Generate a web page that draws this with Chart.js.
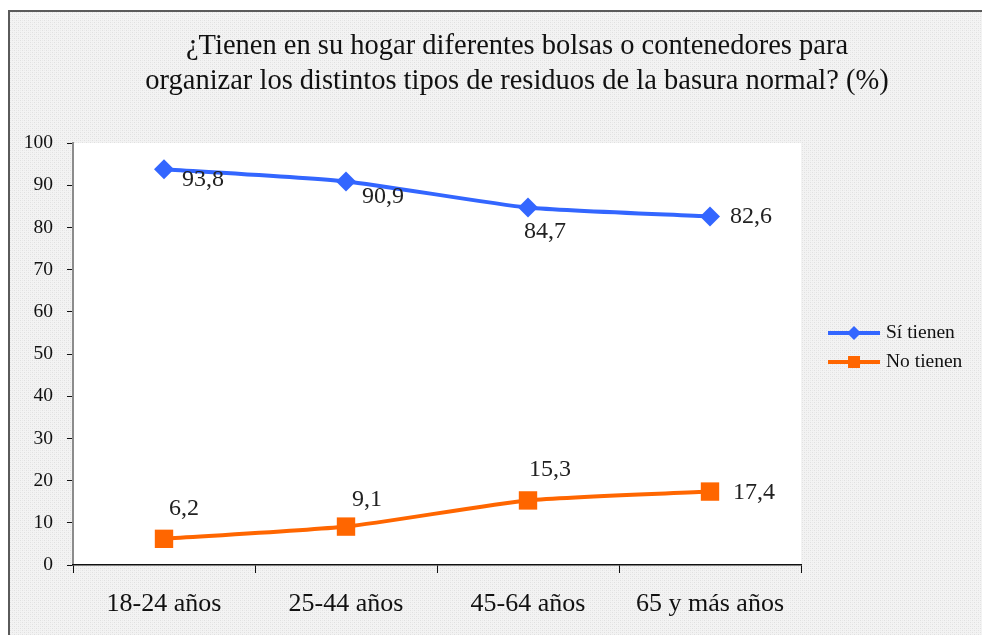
<!DOCTYPE html>
<html>
<head>
<meta charset="utf-8">
<script src="https://cdn.jsdelivr.net/npm/chart.js@4/dist/chart.umd.min.js"></script>
<style>
  html, body { margin: 0; padding: 0; background: #fff; }
  #wrap { width: 982px; height: 635px; }
</style>
</head>
<body>
<div id="wrap"><canvas id="Chart1" width="982" height="635"></canvas></div>
<script>
const categories = ['18-24 años', '25-44 años', '45-64 años', '65 y más años'];
const si_tienen = [93.8, 90.9, 84.7, 82.6];
const no_tienen = [6.2, 9.1, 15.3, 17.4];
const series_names = ['Sí tienen', 'No tienen'];
const title_lines = ['¿Tienen en su hogar diferentes bolsas o contenedores para', 'organizar los distintos tipos de residuos de la basura normal? (%)'];

const serif = "'Liberation Serif', 'Times New Roman', serif";

// where each value label sits relative to its point (dx, dy)
const label_pos = [
  [[18, 11], [16, 15], [-4, 24], [20, 0]],
  [[5, -30], [6, -27], [1, -31], [23, 1]]
];

// hatched grey background pattern
const makePattern = (ctx) => {
  const c = document.createElement('canvas');
  c.width = 4; c.height = 4;
  const p = c.getContext('2d');
  p.fillStyle = '#f3f3f3';
  p.fillRect(0, 0, 4, 4);
  p.fillStyle = '#e0e0e0';
  p.fillRect(0, 0, 1, 1);
  p.fillRect(2, 2, 1, 1);
  p.fillStyle = '#eaeaea';
  p.fillRect(2, 0, 1, 1);
  p.fillRect(0, 2, 1, 1);
  return ctx.createPattern(c, 'repeat');
};

const backgroundPlugin = {
  id: 'bg',
  beforeDraw(chart) {
    const ctx = chart.ctx;
    const a = chart.chartArea;
    ctx.save();
    ctx.fillStyle = '#ffffff';
    ctx.fillRect(0, 0, chart.width, chart.height);
    ctx.fillStyle = makePattern(ctx);
    ctx.fillRect(9, 11, chart.width, chart.height);
    ctx.strokeStyle = '#5a5a5a';
    ctx.lineWidth = 2;
    ctx.strokeRect(9, 11, chart.width + 10, chart.height + 10);
    ctx.fillStyle = '#ffffff';
    ctx.fillRect(a.left, a.top, a.right - a.left, a.bottom - a.top);
    ctx.restore();
  }
};

const titlePlugin = {
  id: 'titleText',
  afterDraw(chart) {
    const ctx = chart.ctx;
    ctx.save();
    ctx.font = '28.5px ' + serif;
    ctx.fillStyle = '#111';
    ctx.textAlign = 'center';
    ctx.textBaseline = 'middle';
    title_lines.forEach((t, i) => ctx.fillText(t, 517, 47 + i * 35));
    ctx.restore();
  }
};

const labelPlugin = {
  id: 'labels',
  afterDatasetsDraw(chart) {
    const ctx = chart.ctx;
    ctx.save();
    ctx.font = '24px ' + serif;
    ctx.fillStyle = '#222';
    ctx.textBaseline = 'middle';
    ctx.textAlign = 'left';
    chart.data.datasets.forEach((ds, i) => {
      const meta = chart.getDatasetMeta(i);
      meta.data.forEach((pt, j) => {
        const o = label_pos[i][j];
        ctx.fillText(ds.data[j].toFixed(1).replace('.', ','), pt.x + o[0], pt.y + o[1]);
      });
    });
    ctx.restore();
  }
};

const legendPlugin = {
  id: 'legendRight',
  afterDraw(chart) {
    const ctx = chart.ctx;
    ctx.save();
    ctx.font = '19.5px ' + serif;
    ctx.textBaseline = 'middle';
    ctx.textAlign = 'left';
    chart.data.datasets.forEach((ds, i) => {
      const y = 333 + i * 29;
      ctx.strokeStyle = ds.borderColor;
      ctx.lineWidth = 4;
      ctx.beginPath();
      ctx.moveTo(828, y);
      ctx.lineTo(880, y);
      ctx.stroke();
      ctx.fillStyle = ds.borderColor;
      Chart.helpers.drawPoint(ctx, {
        pointStyle: ds.pointStyle,
        rotation: 0,
        borderWidth: 0,
        radius: ds.pointStyle === 'rect' ? 8.5 : 7
      }, 854, y);
      ctx.fillStyle = '#111';
      ctx.fillText(series_names[i], 886, y);
    });
    ctx.restore();
  }
};

var ctx = document.getElementById('Chart1').getContext('2d');
const data = {
  labels: categories,
  datasets: [{
      label: series_names[0],
      data: si_tienen,
      borderColor: '#3366FF',
      backgroundColor: '#3366FF',
      borderWidth: 4,
      pointStyle: 'rectRot',
      pointRadius: 10,
      pointBorderWidth: 0,
      tension: 0.2
    },
    {
      label: series_names[1],
      data: no_tienen,
      borderColor: '#FF6600',
      backgroundColor: '#FF6600',
      borderWidth: 4,
      pointStyle: 'rect',
      pointRadius: 13,
      pointBorderWidth: 0,
      tension: 0.2
    }
  ]
};

const config = {
  type: 'line',
  data: data,
  options: {
    responsive: false,
    maintainAspectRatio: false,
    animation: false,
    layout: {
      padding: { left: 0, right: 181, top: 143, bottom: 0 }
    },
    plugins: {
      legend: { display: false },
      tooltip: { enabled: false },
      title: { display: false }
    },
    scales: {
      y: {
        min: 0,
        max: 100,
        ticks: {
          stepSize: 10,
          color: '#111',
          padding: 14,
          font: { family: serif, size: 19.5 }
        },
        grid: {
          drawOnChartArea: false,
          tickLength: 6,
          color: '#111',
          tickColor: '#111'
        },
        border: { color: '#8c8c8c', width: 2 },
        afterFit(scale) { scale.width = 73; }
      },
      x: {
        offset: true,
        ticks: {
          color: '#111',
          padding: 16,
          font: { family: serif, size: 26 }
        },
        grid: {
          offset: true,
          drawOnChartArea: false,
          tickLength: 8,
          color: '#111'
        },
        border: { color: '#111', width: 1.5 },
        afterFit(scale) { scale.height = 70; }
      }
    }
  },
  plugins: [backgroundPlugin, titlePlugin, labelPlugin, legendPlugin]
};
var myChart1 = new Chart(ctx, config);
</script>
</body>
</html>
